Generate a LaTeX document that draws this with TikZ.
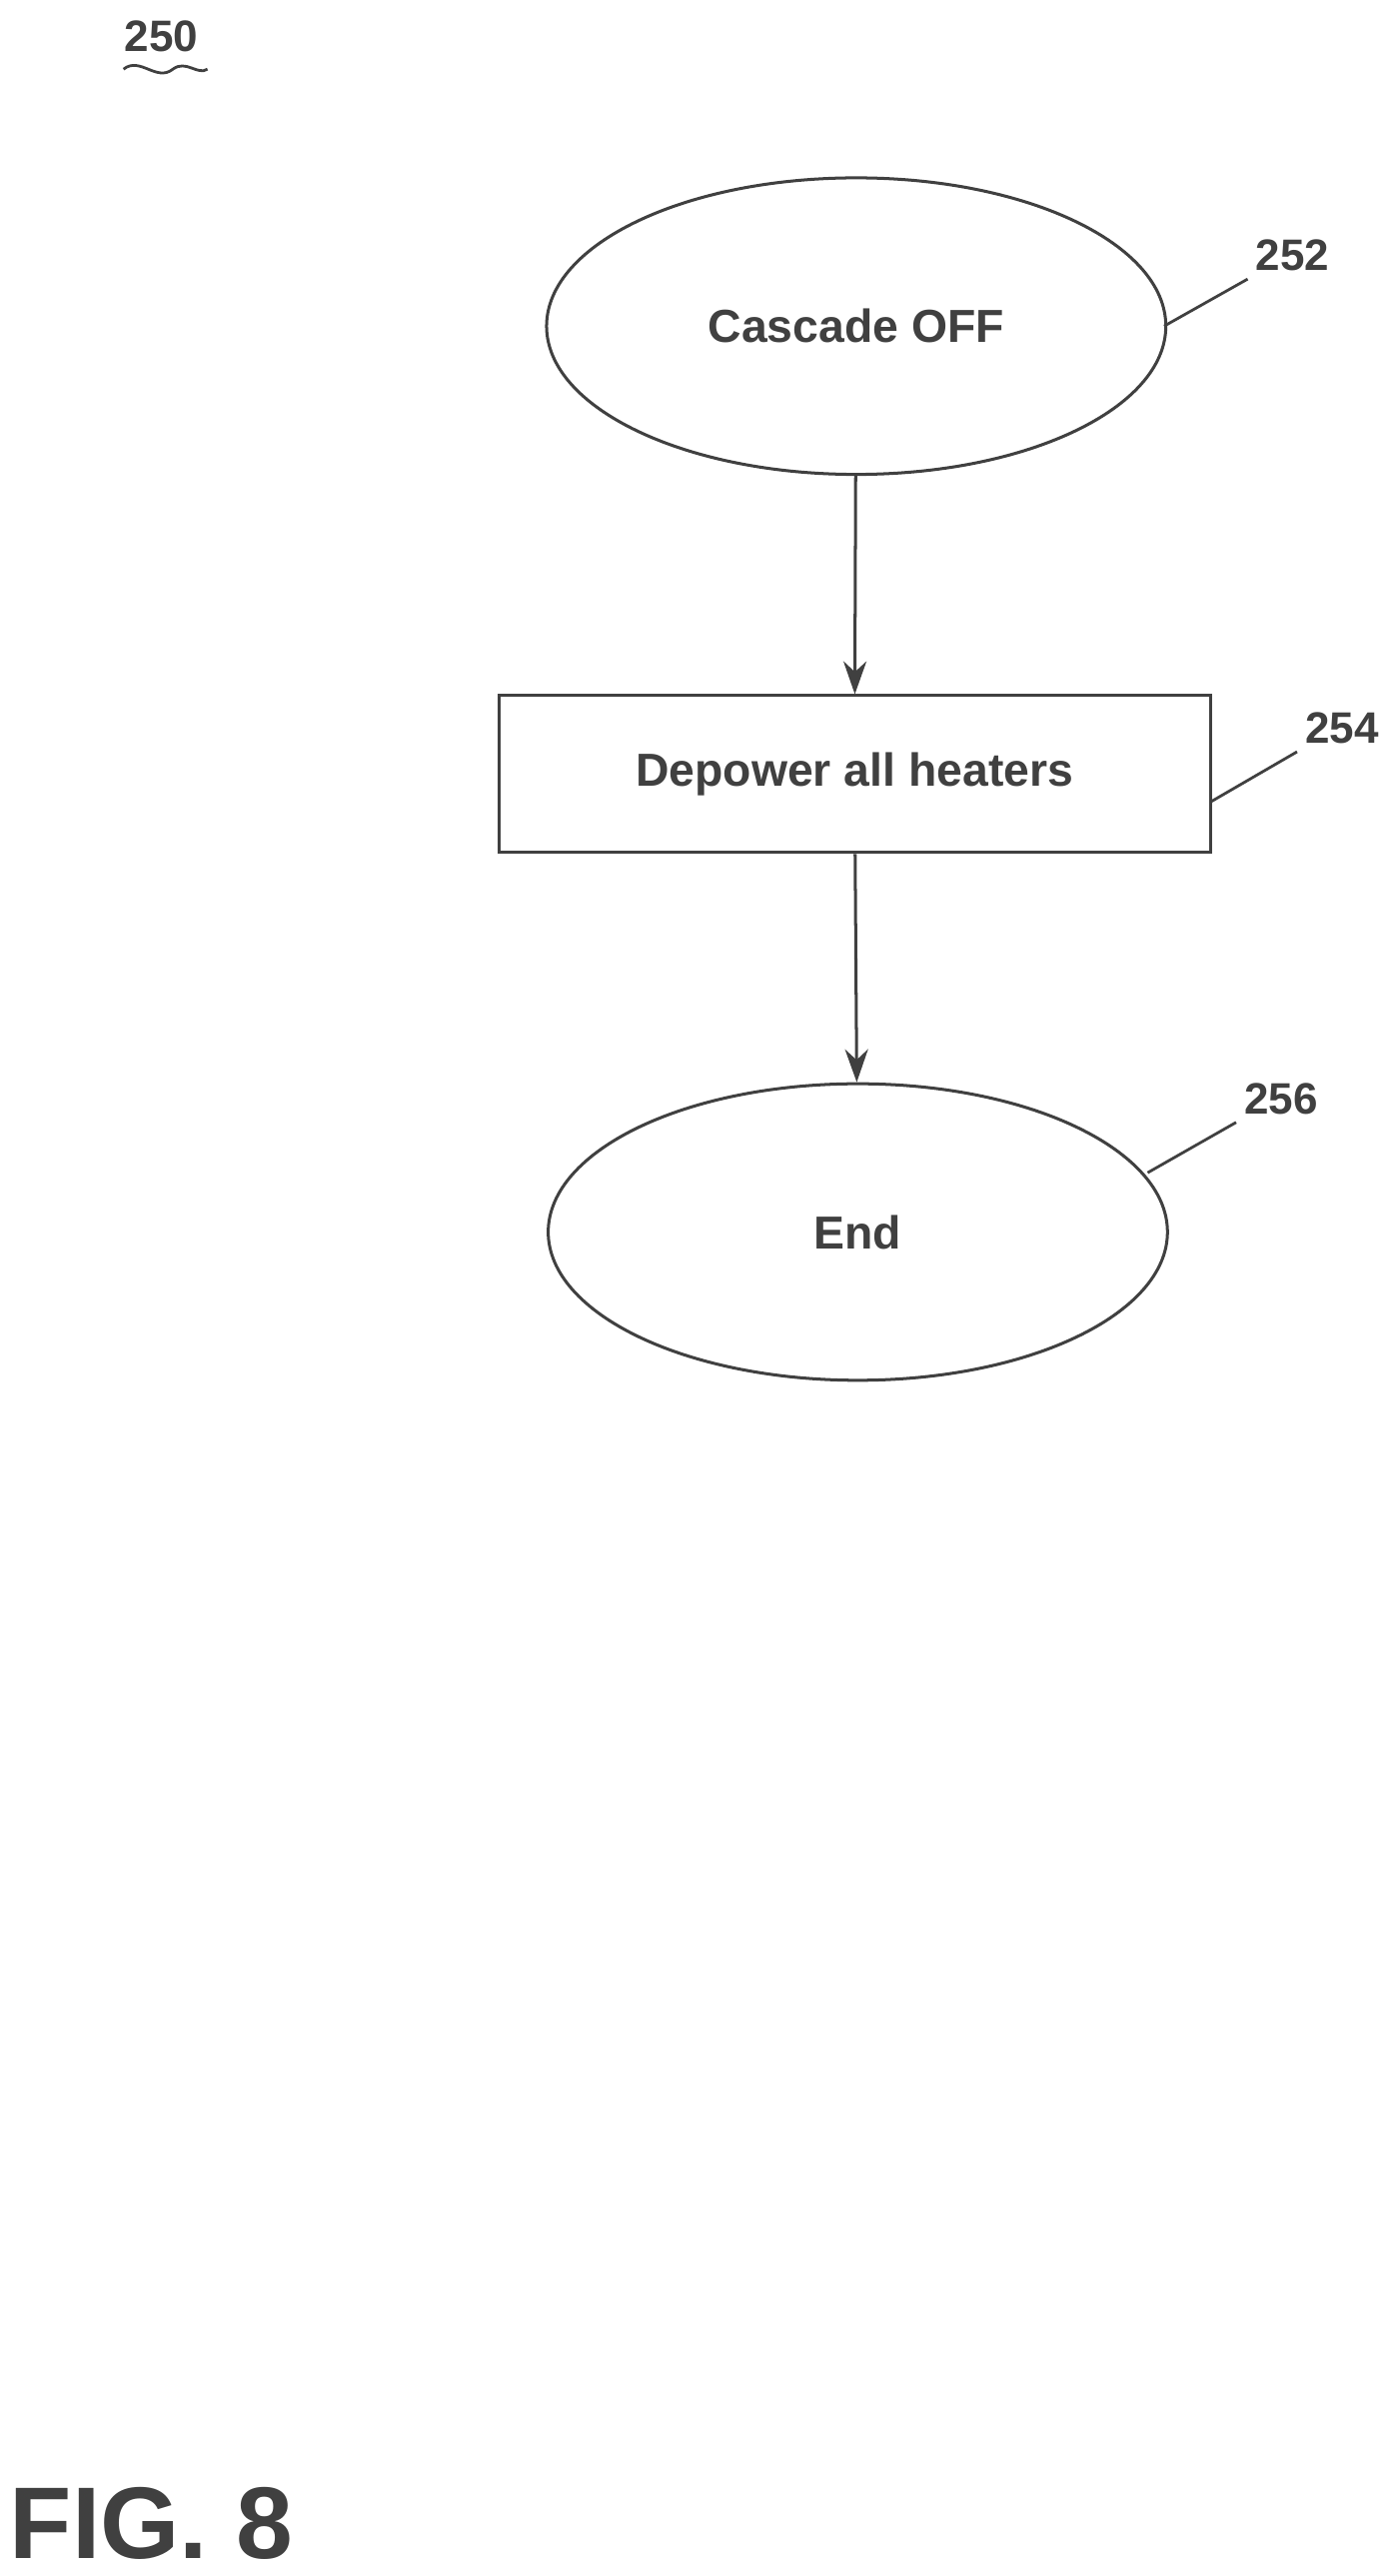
\documentclass[tikz,border=0pt]{standalone}
\usepackage{fontspec}
\setmainfont{Liberation Sans}
\usetikzlibrary{shapes.geometric,arrows.meta,positioning}
\colorlet{ink}{black!75}
\begin{document}
\begin{tikzpicture}[
		x=0.025cm,y=-0.025cm,
		Terminal/.style={ellipse,draw=ink,line width=1.3pt,minimum width=9.4cm,minimum height=4.5cm,font=\fontsize{20}{24}\selectfont\bfseries,text=ink},
		StepBox/.style={rectangle,draw=ink,line width=1.3pt,minimum width=10.8cm,minimum height=2.38cm,font=\fontsize{20}{24}\selectfont\bfseries,text=ink},
		Flow/.style={draw=ink,line width=1.3pt,-{Stealth[length=5mm,width=3.5mm]}},
		Leader/.style={draw=ink,line width=1.2pt},
		RefNum/.style={font=\fontsize{19}{22}\selectfont\bfseries,text=ink}
		]

		\useasboundingbox (0,0) rectangle (850,1564);

		% figure number and wave
		\node[RefNum] (fignum) at (98,22) {250};
		\draw[Leader] (75,42) .. controls (85,34) and (95,50) .. (105,42) .. controls (113,36) and (120,46) .. (126,42);

		% flow
		\node[Terminal] (off) at (520,198) {Cascade OFF};
		\node[StepBox] (depower) at (519,470) {Depower all heaters};
		\node[Terminal] (end) at (521,748) {End};

		\draw[Flow] (off) -- (depower);
		\draw[Flow] (depower) -- (end);

		% reference numbers
		\node[RefNum] (n252) at (785,155) {252};
		\node[RefNum] (n254) at (815,442) {254};
		\node[RefNum] (n256) at (778,667) {256};
		\coordinate (c252) at (707,198);
		\coordinate (c254) at (735,487);
		\coordinate (c256) at (697,712);
		\draw[Leader] (c252) -- (n252.south west);
		\draw[Leader] (c254) -- (n254.south west);
		\draw[Leader] (c256) -- (n256.south west);

		\node[font=\fontsize{44}{50}\selectfont\bfseries,text=ink] (fig) at (92,1532) {FIG. 8};
\end{tikzpicture}
\end{document}
